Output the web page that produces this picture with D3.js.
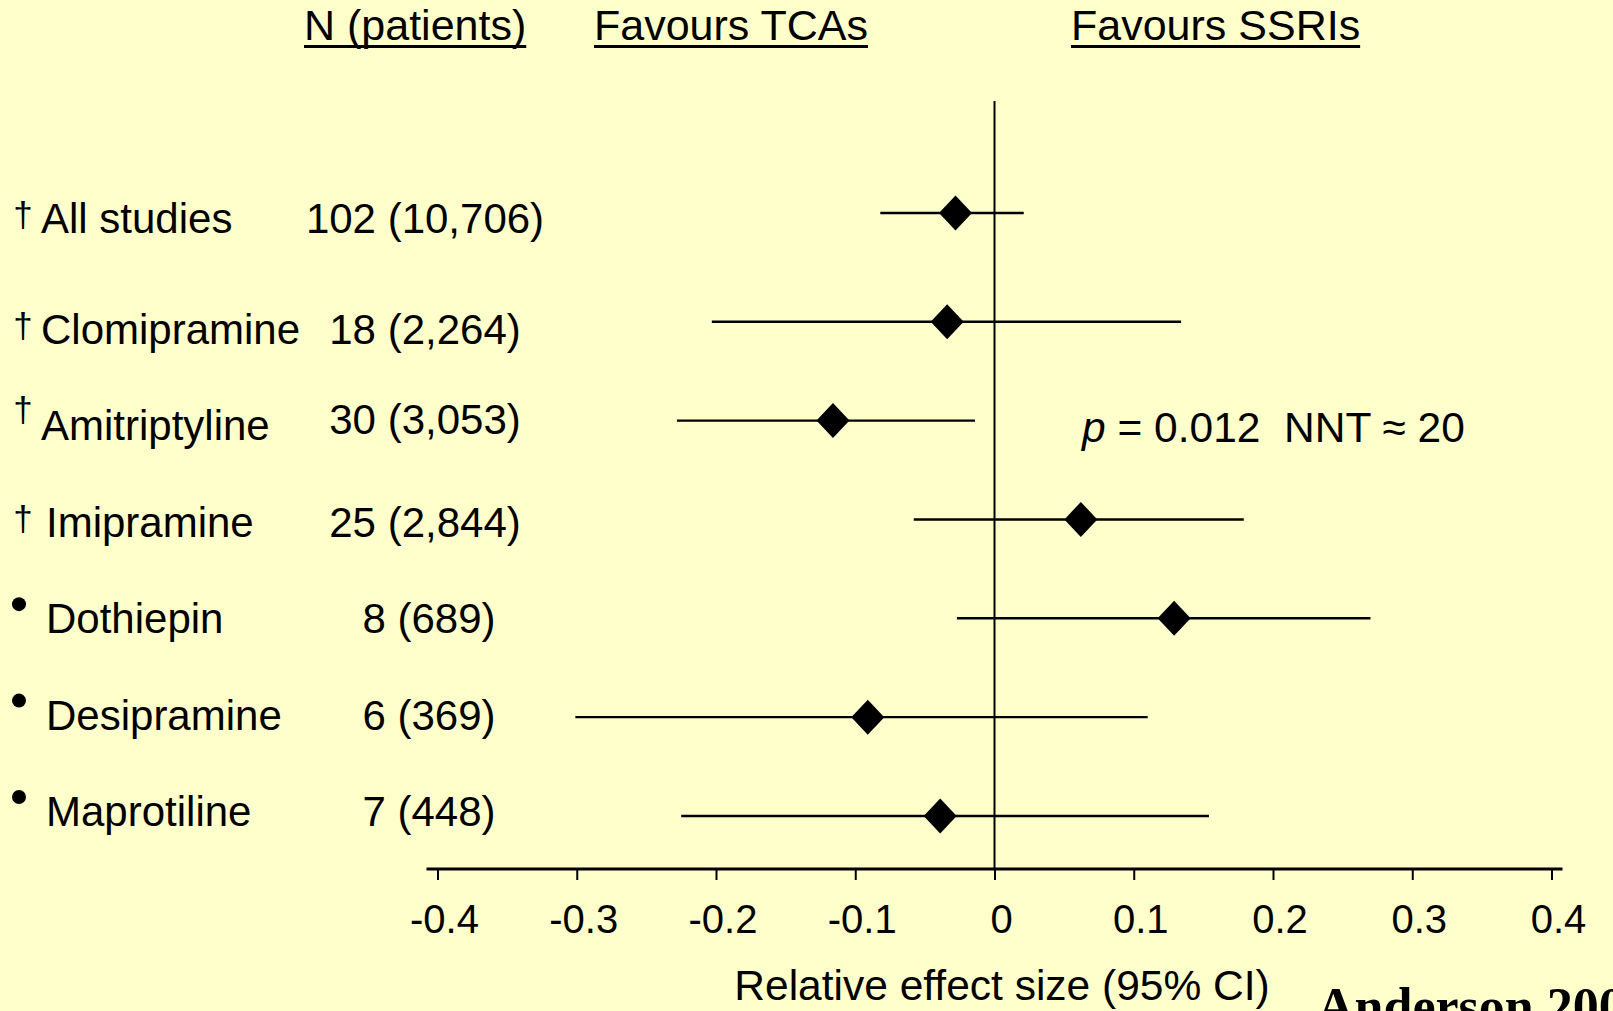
<!DOCTYPE html>
<html>
<head>
<meta charset="utf-8">
<script src="https://cdn.jsdelivr.net/npm/d3@7"></script>
<style>
  html, body { margin: 0; padding: 0; background: #ffffcc; }
  svg { display: block; }
  text { fill: #000; }
</style>
</head>
<body>
<svg id="chart" width="1613" height="1011"></svg>
<script>
// Tricyclic antidepressants vs SSRIs: relative effect size per comparator
const categories = ["All studies", "Clomipramine", "Amitriptyline", "Imipramine", "Dothiepin", "Desipramine", "Maprotiline"];
const markers = ["†", "†", "†", "†", "•", "•", "•"];
const trialCounts = ["102 (10,706)", "18 (2,264)", "30 (3,053)", "25 (2,844)", "8 (689)", "6 (369)", "7 (448)"];
const effect = [-0.028, -0.034, -0.116, 0.062, 0.129, -0.091, -0.039];
const ciLow = [-0.082, -0.203, -0.228, -0.058, -0.027, -0.301, -0.225];
const ciHigh = [0.021, 0.134, -0.014, 0.179, 0.270, 0.110, 0.154];
const tickValues = [-0.4, -0.3, -0.2, -0.1, 0, 0.1, 0.2, 0.3, 0.4];
const tickLabels = ["-0.4", "-0.3", "-0.2", "-0.1", "0", "0.1", "0.2", "0.3", "0.4"];
const headers = ["N (patients)", "Favours TCAs", "Favours SSRIs"];
const statsNote = { p: "0.012", nnt: "20" };
const axisTitle = "Relative effect size (95% CI)";
const citation = "Anderson 2000";

const SANS = "'Liberation Sans', Arial, sans-serif";
const SERIF = "'Liberation Serif', 'Times New Roman', serif";

const svg = d3.select("#chart");
const W = 1613, H = 1011;
svg.append("rect").attr("width", W).attr("height", H).attr("fill", "#ffffcc");

const rows = categories.map((name, i) => ({
  i, name, marker: markers[i], n: trialCounts[i],
  est: effect[i], lo: ciLow[i], hi: ciHigh[i],
  // the pooled row sits a little apart from the individual drugs
  slot: i === 0 ? 0 : i + 0.1,
  textSlot: i === 0 ? 0 : i + 0.15
}));

const x = d3.scaleLinear().domain([-0.4, 0.4]).range([437.5, 1551.5]);
const y = d3.scaleLinear().domain([0, 6.1]).range([213, 816]);       // row centre of each CI
const yLabel = d3.scaleLinear().domain([0, 6.15]).range([233, 826]); // baseline of the row text
const axisY = 869;

// column headers, underlined
const headerX = [304, 594, 1071];
headers.forEach((h, i) => {
  const t = svg.append("text").attr("x", headerX[i]).attr("y", 40)
    .style("font-family", SANS).attr("font-size", 43).text(h);
  const w = t.node().getComputedTextLength();
  svg.append("line").attr("x1", headerX[i]).attr("x2", headerX[i] + w)
    .attr("y1", 46.5).attr("y2", 46.5).attr("stroke", "#000").attr("stroke-width", 3);
});

// line of no difference
svg.append("line")
  .attr("x1", x(0)).attr("x2", x(0)).attr("y1", 101).attr("y2", axisY)
  .attr("stroke", "#000").attr("stroke-width", 2);

// confidence intervals
svg.append("g").selectAll("line").data(rows).join("line")
  .attr("x1", d => x(d.lo)).attr("x2", d => x(d.hi))
  .attr("y1", d => y(d.slot)).attr("y2", d => y(d.slot))
  .attr("stroke", "#000").attr("stroke-width", 2.4);

// point estimates as diamonds
const diamond = d3.symbol().type(d3.symbolSquare).size(545);
svg.append("g").selectAll("path").data(rows).join("path")
  .attr("d", diamond)
  .attr("transform", d => `translate(${x(d.est)},${y(d.slot)}) scale(1,1.06) rotate(45)`)
  .attr("fill", "#000");

// row labels: marker, drug name, number of studies (patients)
const raised = new Set(["Amitriptyline"]);
const lab = svg.append("g").style("font-family", SANS);
rows.forEach(d => {
  const by = yLabel(d.textSlot);
  if (d.marker === "•") {
    lab.append("circle").attr("cx", 19).attr("cy", by - 29).attr("r", 7).attr("fill", "#000");
  } else {
    lab.append("text").attr("x", 23).attr("y", by - 6 - (raised.has(d.name) ? 12 : 0))
      .attr("text-anchor", "middle").attr("font-size", 35).text(d.marker);
  }
  lab.append("text").attr("x", d.i >= 3 ? 46 : 41).attr("y", by)
    .attr("font-size", 42).text(d.name);
  lab.append("text").attr("x", d.i >= 4 ? 429 : 425).attr("y", by - (raised.has(d.name) ? 6 : 0))
    .attr("text-anchor", "middle").attr("font-size", 42).text(d.n);
});

// x axis
const axis = d3.axisBottom(x)
  .tickValues(tickValues)
  .tickFormat((v, i) => tickLabels[i])
  .tickSize(11).tickPadding(25);
const gx = svg.append("g").attr("transform", `translate(0,${axisY})`).call(axis);
gx.select(".domain").remove();
gx.selectAll(".tick line").attr("stroke", "#000").attr("stroke-width", 2);
gx.selectAll(".tick text").attr("font-size", 40).attr("dx", 6.5)
  .style("font-family", SANS).attr("fill", "#000");
gx.append("line")
  .attr("x1", x.range()[0] - 11).attr("x2", x.range()[1] + 11)
  .attr("y1", 0).attr("y2", 0).attr("stroke", "#000").attr("stroke-width", 3);

svg.append("text").attr("x", 1002).attr("y", 1000)
  .attr("text-anchor", "middle").style("font-family", SANS).attr("font-size", 42.5).text(axisTitle);

// significance note
const note = svg.append("text").attr("x", 1082).attr("y", 442).attr("font-size", 42.5)
  .style("font-family", SANS).style("white-space", "pre");
note.append("tspan").attr("font-style", "italic").text("p");
note.append("tspan").text(` = ${statsNote.p}  NNT \u2248 ${statsNote.nnt}`);

// source
svg.append("text").attr("x", 1317).attr("y", 1024)
  .style("font-family", SERIF).attr("font-weight", "bold").attr("font-size", 52).text(citation);
</script>
</body>
</html>
